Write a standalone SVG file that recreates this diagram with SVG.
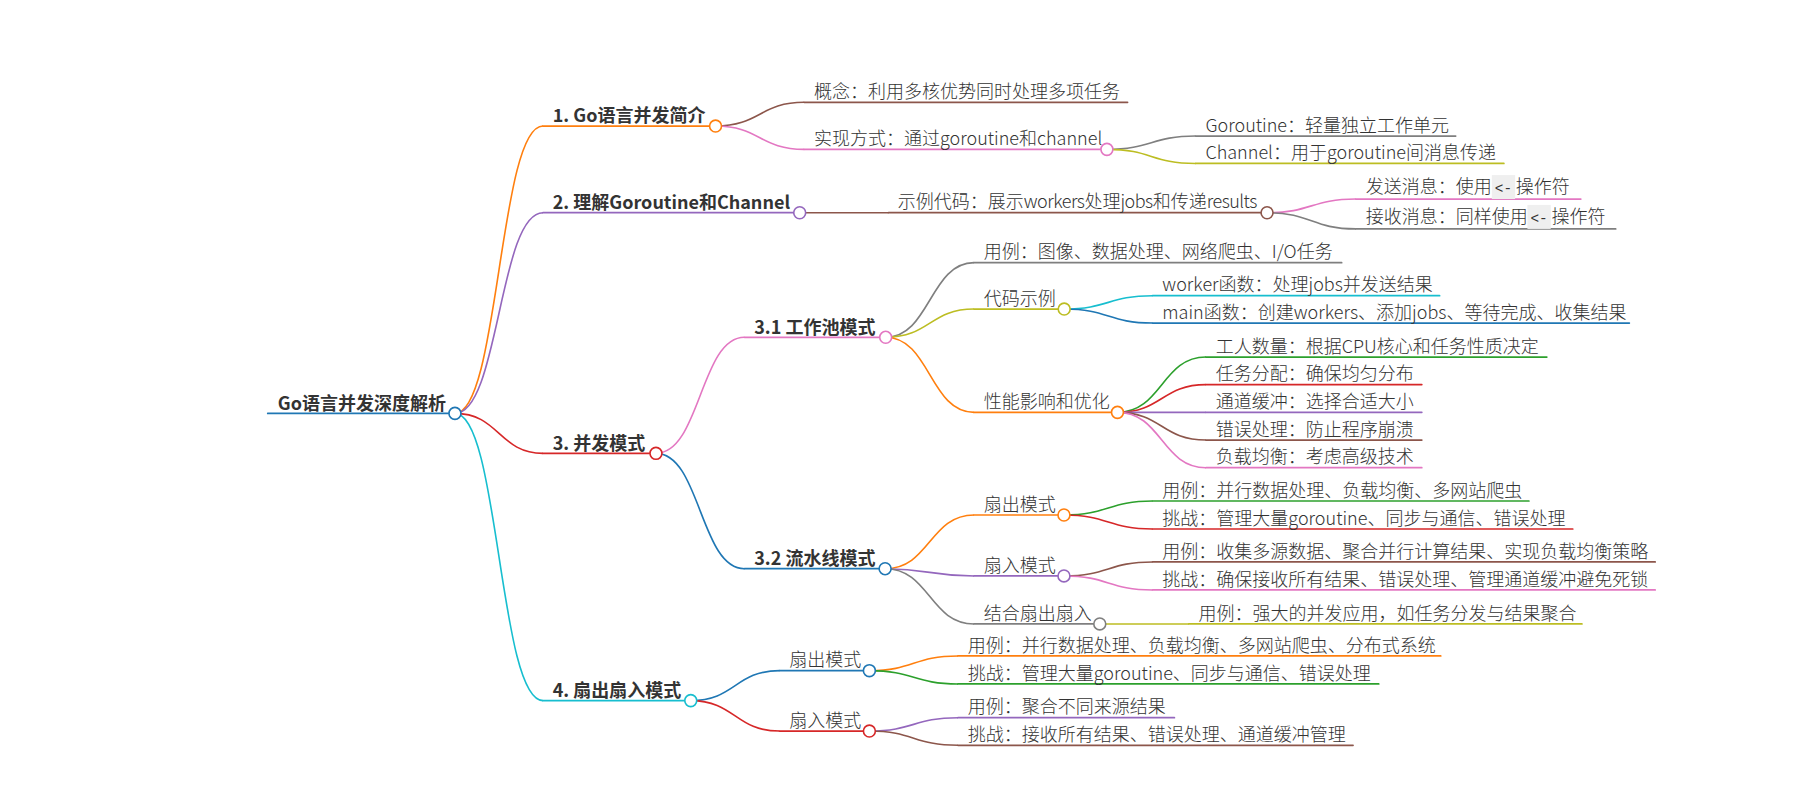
<svg xmlns="http://www.w3.org/2000/svg" width="1800" height="800" viewBox="0 0 1800 800">
<style>
.l{fill:none;stroke-width:1.5;stroke-linecap:round}
.k{fill:none;stroke-width:1.4}
.o{fill:#fff;stroke-width:1.4}
.t{font-family:"Noto Sans CJK SC","Noto Sans",sans-serif;font-size:15.68px;font-weight:300;fill:#333}
.b{font-family:"Noto Sans CJK SC","Noto Sans",sans-serif;font-size:15.68px;font-weight:bold;fill:#333}
.n{letter-spacing:-0.45px}
.m{font-family:"Liberation Mono",monospace;font-size:12.5px;fill:#333}
.cb{fill:#efefef}
.blue{stroke:#1f77b4}.orange{stroke:#ff7f0e}.green{stroke:#2ca02c}.red{stroke:#d62728}.purple{stroke:#9467bd}
.brown{stroke:#8c564b}.pink{stroke:#e377c2}.gray{stroke:#7f7f7f}.olive{stroke:#bcbd22}.cyan{stroke:#17becf}
</style>
<rect width="1800" height="800" fill="#fff"/>
<g transform="scale(1.148)">
<g id="connectors">
<path class="k orange" d="M396.3,360.1C434.7,360.1 434.7,109.8 473,109.8"/>
<path class="k purple" d="M396.3,360.1C434.7,360.1 434.7,185.3 473,185.3"/>
<path class="k red" d="M396.3,360.1C434.7,360.1 434.7,394.9 473,394.9"/>
<path class="k cyan" d="M396.3,360.1C434.7,360.1 434.7,610.3 473,610.3"/>
<path class="k brown" d="M623.3,109.8C661.9,109.8 661.9,89.1 700.5,89.1"/>
<path class="k pink" d="M623.3,109.8C661.9,109.8 661.9,130.1 700.5,130.1"/>
<path class="k gray" d="M964.2,130.1C1002.9,130.1 1002.9,118.5 1041.5,118.5"/>
<path class="k olive" d="M964.2,130.1C1002.9,130.1 1002.9,142.4 1041.5,142.4"/>
<path class="k brown" d="M696.6,185.3L774,185.3"/>
<path class="k pink" d="M1103.7,185.3C1142.4,185.3 1142.4,173.4 1181,173.4"/>
<path class="k gray" d="M1103.7,185.3C1142.4,185.3 1142.4,199.4 1181,199.4"/>
<path class="k pink" d="M571.4,394.9C610,394.9 610,293.8 648.5,293.8"/>
<path class="k blue" d="M571.4,394.9C610,394.9 610,495.4 648.5,495.4"/>
<path class="k gray" d="M771.5,293.8C810,293.8 810,228.8 848.5,228.8"/>
<path class="k olive" d="M771.5,293.8C810,293.8 810,269.2 848.5,269.2"/>
<path class="k orange" d="M771.5,293.8C810,293.8 810,359.2 848.5,359.2"/>
<path class="k cyan" d="M927,269.2C965.5,269.2 965.5,257.6 1004,257.6"/>
<path class="k blue" d="M927,269.2C965.5,269.2 965.5,281.4 1004,281.4"/>
<path class="k green" d="M973.4,359.2C1012,359.2 1012,311 1050.5,311"/>
<path class="k red" d="M973.4,359.2C1012,359.2 1012,335 1050.5,335"/>
<path class="k purple" d="M973.4,359.2L1050.5,359.2"/>
<path class="k brown" d="M973.4,359.2C1012,359.2 1012,383.3 1050.5,383.3"/>
<path class="k pink" d="M973.4,359.2C1012,359.2 1012,407.4 1050.5,407.4"/>
<path class="k orange" d="M771,495.4C809.8,495.4 809.8,448.6 848.5,448.6"/>
<path class="k purple" d="M771,495.4C809.8,495.4 809.8,501.7 848.5,501.7"/>
<path class="k gray" d="M771,495.4C809.8,495.4 809.8,543.5 848.5,543.5"/>
<path class="k green" d="M926.8,448.6C965.4,448.6 965.4,436.4 1004,436.4"/>
<path class="k red" d="M926.8,448.6C965.4,448.6 965.4,460.8 1004,460.8"/>
<path class="k brown" d="M926.8,501.7C965.4,501.7 965.4,489.5 1004,489.5"/>
<path class="k pink" d="M926.8,501.7C965.4,501.7 965.4,513.9 1004,513.9"/>
<path class="k olive" d="M958,543.5L1035.5,543.5"/>
<path class="k blue" d="M601.7,610.3C640.4,610.3 640.4,584.2 679,584.2"/>
<path class="k red" d="M601.7,610.3C640.4,610.3 640.4,636.8 679,636.8"/>
<path class="k orange" d="M757.3,584.2C795.9,584.2 795.9,571.4 834.5,571.4"/>
<path class="k green" d="M757.3,584.2C795.9,584.2 795.9,595.8 834.5,595.8"/>
<path class="k purple" d="M757.3,636.8C795.9,636.8 795.9,625.2 834.5,625.2"/>
<path class="k brown" d="M757.3,636.8C795.9,636.8 795.9,649.2 834.5,649.2"/>
</g>

<g id="root"><path class="l blue" d="M233.2,360.1H396.3"/><circle class="o blue" cx="396.3" cy="360.1" r="5.2"/><text class="b" x="242" y="356.9">Go语言并发深度解析</text></g>

<g id="n1"><path class="l orange" d="M473,109.8H623.3"/><circle class="o orange" cx="623.3" cy="109.8" r="5.2"/><text class="b" x="481.5" y="106.6">1. Go语言并发简介</text></g>
<g id="n1-1"><path class="l brown" d="M700.5,89.1H982.2"/><text class="t" x="709" y="85.3">概念：利用多核优势同时处理多项任务</text></g>
<g id="n1-2"><path class="l pink" d="M700.5,130.1H964.2"/><circle class="o pink" cx="964.2" cy="130.1" r="5.2"/><text class="t" x="709" y="126.3">实现方式：通过goroutine和channel</text></g>
<g id="n1-2-1"><path class="l gray" d="M1041.5,118.5H1268"/><text class="t" x="1050" y="114.7">Goroutine：轻量独立工作单元</text></g>
<g id="n1-2-2"><path class="l olive" d="M1041.5,142.4H1310"/><text class="t" x="1050" y="138.6">Channel：用于goroutine间消息传递</text></g>

<g id="n2"><path class="l purple" d="M473,185.3H696.6"/><circle class="o purple" cx="696.6" cy="185.3" r="5.2"/><text class="b" x="481.5" y="182.1">2. 理解Goroutine和Channel</text></g>
<g id="n2-1"><path class="l brown" d="M774,185.3H1103.7"/><circle class="o brown" cx="1103.7" cy="185.3" r="5.2"/><text class="t" x="782" y="181.5">示例代码：展示<tspan class="n">workers</tspan>处理<tspan class="n">jobs</tspan>和传递<tspan class="n">results</tspan></text></g>
<g id="n2-1-1"><path class="l pink" d="M1181,173.4H1377"/><rect class="cb" x="1299.5" y="152.5" width="20.3" height="20.9"/><text class="t" x="1189.6" y="168">发送消息：使用</text><text class="m" x="1309.6" y="168" text-anchor="middle">&lt;-</text><text class="t" x="1320.3" y="168">操作符</text></g>
<g id="n2-1-2"><path class="l gray" d="M1181,199.4H1407.4"/><rect class="cb" x="1330.5" y="178.5" width="20.3" height="20.9"/><text class="t" x="1189.6" y="194">接收消息：同样使用</text><text class="m" x="1340.6" y="194" text-anchor="middle">&lt;-</text><text class="t" x="1351.5" y="194">操作符</text></g>

<g id="n3"><path class="l red" d="M473,394.9H571.4"/><circle class="o red" cx="571.4" cy="394.9" r="5.2"/><text class="b" x="481.5" y="391.7">3. 并发模式</text></g>
<g id="n3-1"><path class="l pink" d="M648.5,293.8H771.5"/><circle class="o pink" cx="771.5" cy="293.8" r="5.2"/><text class="b" x="657" y="290.6">3.1 工作池模式</text></g>
<g id="n3-1-1"><path class="l gray" d="M848.5,228.8H1168.7"/><text class="t" x="857" y="225">用例：图像、数据处理、网络爬虫、I/O任务</text></g>
<g id="n3-1-2"><path class="l olive" d="M848.5,269.2H927"/><circle class="o olive" cx="927" cy="269.2" r="5.2"/><text class="t" x="857" y="265.4">代码示例</text></g>
<g id="n3-1-2-1"><path class="l cyan" d="M1004,257.6H1254"/><text class="t" x="1012.5" y="253.8">worker函数：处理jobs并发送结果</text></g>
<g id="n3-1-2-2"><path class="l blue" d="M1004,281.4H1419.3"/><text class="t" x="1012.5" y="277.6">main函数：创建workers、添加jobs、等待完成、收集结果</text></g>
<g id="n3-1-3"><path class="l orange" d="M848.5,359.2H973.4"/><circle class="o orange" cx="973.4" cy="359.2" r="5.2"/><text class="t" x="857" y="355.4">性能影响和优化</text></g>
<g id="n3-1-3-1"><path class="l green" d="M1050.5,311H1347.4"/><text class="t" x="1059" y="307.2">工人数量：根据CPU核心和任务性质决定</text></g>
<g id="n3-1-3-2"><path class="l red" d="M1050.5,335H1238.5"/><text class="t" x="1059" y="331.2">任务分配：确保均匀分布</text></g>
<g id="n3-1-3-3"><path class="l purple" d="M1050.5,359.2H1238.5"/><text class="t" x="1059" y="355.4">通道缓冲：选择合适大小</text></g>
<g id="n3-1-3-4"><path class="l brown" d="M1050.5,383.3H1238.5"/><text class="t" x="1059" y="379.5">错误处理：防止程序崩溃</text></g>
<g id="n3-1-3-5"><path class="l pink" d="M1050.5,407.4H1238.5"/><text class="t" x="1059" y="403.6">负载均衡：考虑高级技术</text></g>

<g id="n3-2"><path class="l blue" d="M648.5,495.4H771"/><circle class="o blue" cx="771" cy="495.4" r="5.2"/><text class="b" x="657" y="492.2">3.2 流水线模式</text></g>
<g id="n3-2-1"><path class="l orange" d="M848.5,448.6H926.8"/><circle class="o orange" cx="926.8" cy="448.6" r="5.2"/><text class="t" x="857" y="444.8">扇出模式</text></g>
<g id="n3-2-1-1"><path class="l green" d="M1004,436.4H1331.8"/><text class="t" x="1012.5" y="432.6">用例：并行数据处理、负载均衡、多网站爬虫</text></g>
<g id="n3-2-1-2"><path class="l red" d="M1004,460.8H1370"/><text class="t" x="1012.5" y="457">挑战：管理大量goroutine、同步与通信、错误处理</text></g>
<g id="n3-2-2"><path class="l purple" d="M848.5,501.7H926.8"/><circle class="o purple" cx="926.8" cy="501.7" r="5.2"/><text class="t" x="857" y="497.9">扇入模式</text></g>
<g id="n3-2-2-1"><path class="l brown" d="M1004,489.5H1441.8"/><text class="t" x="1012.5" y="485.7">用例：收集多源数据、聚合并行计算结果、实现负载均衡策略</text></g>
<g id="n3-2-2-2"><path class="l pink" d="M1004,513.9H1441.8"/><text class="t" x="1012.5" y="510.1">挑战：确保接收所有结果、错误处理、管理通道缓冲避免死锁</text></g>
<g id="n3-2-3"><path class="l gray" d="M848.5,543.5H958"/><circle class="o gray" cx="958" cy="543.5" r="5.2"/><text class="t" x="857" y="539.7">结合扇出扇入</text></g>
<g id="n3-2-3-1"><path class="l olive" d="M1035.5,543.5H1378"/><text class="t" x="1044" y="539.7">用例：强大的并发应用，如任务分发与结果聚合</text></g>

<g id="n4"><path class="l cyan" d="M473,610.3H601.7"/><circle class="o cyan" cx="601.7" cy="610.3" r="5.2"/><text class="b" x="481.5" y="607.1">4. 扇出扇入模式</text></g>
<g id="n4-1"><path class="l blue" d="M679,584.2H757.3"/><circle class="o blue" cx="757.3" cy="584.2" r="5.2"/><text class="t" x="687.5" y="580.4">扇出模式</text></g>
<g id="n4-1-1"><path class="l orange" d="M834.5,571.4H1255"/><text class="t" x="843" y="567.6">用例：并行数据处理、负载均衡、多网站爬虫、分布式系统</text></g>
<g id="n4-1-2"><path class="l green" d="M834.5,595.8H1201"/><text class="t" x="843" y="592">挑战：管理大量goroutine、同步与通信、错误处理</text></g>
<g id="n4-2"><path class="l red" d="M679,636.8H757.3"/><circle class="o red" cx="757.3" cy="636.8" r="5.2"/><text class="t" x="687.5" y="633">扇入模式</text></g>
<g id="n4-2-1"><path class="l purple" d="M834.5,625.2H1023"/><text class="t" x="843" y="621.4">用例：聚合不同来源结果</text></g>
<g id="n4-2-2"><path class="l brown" d="M834.5,649.2H1178.6"/><text class="t" x="843" y="645.4">挑战：接收所有结果、错误处理、通道缓冲管理</text></g>
</g>
</svg>
